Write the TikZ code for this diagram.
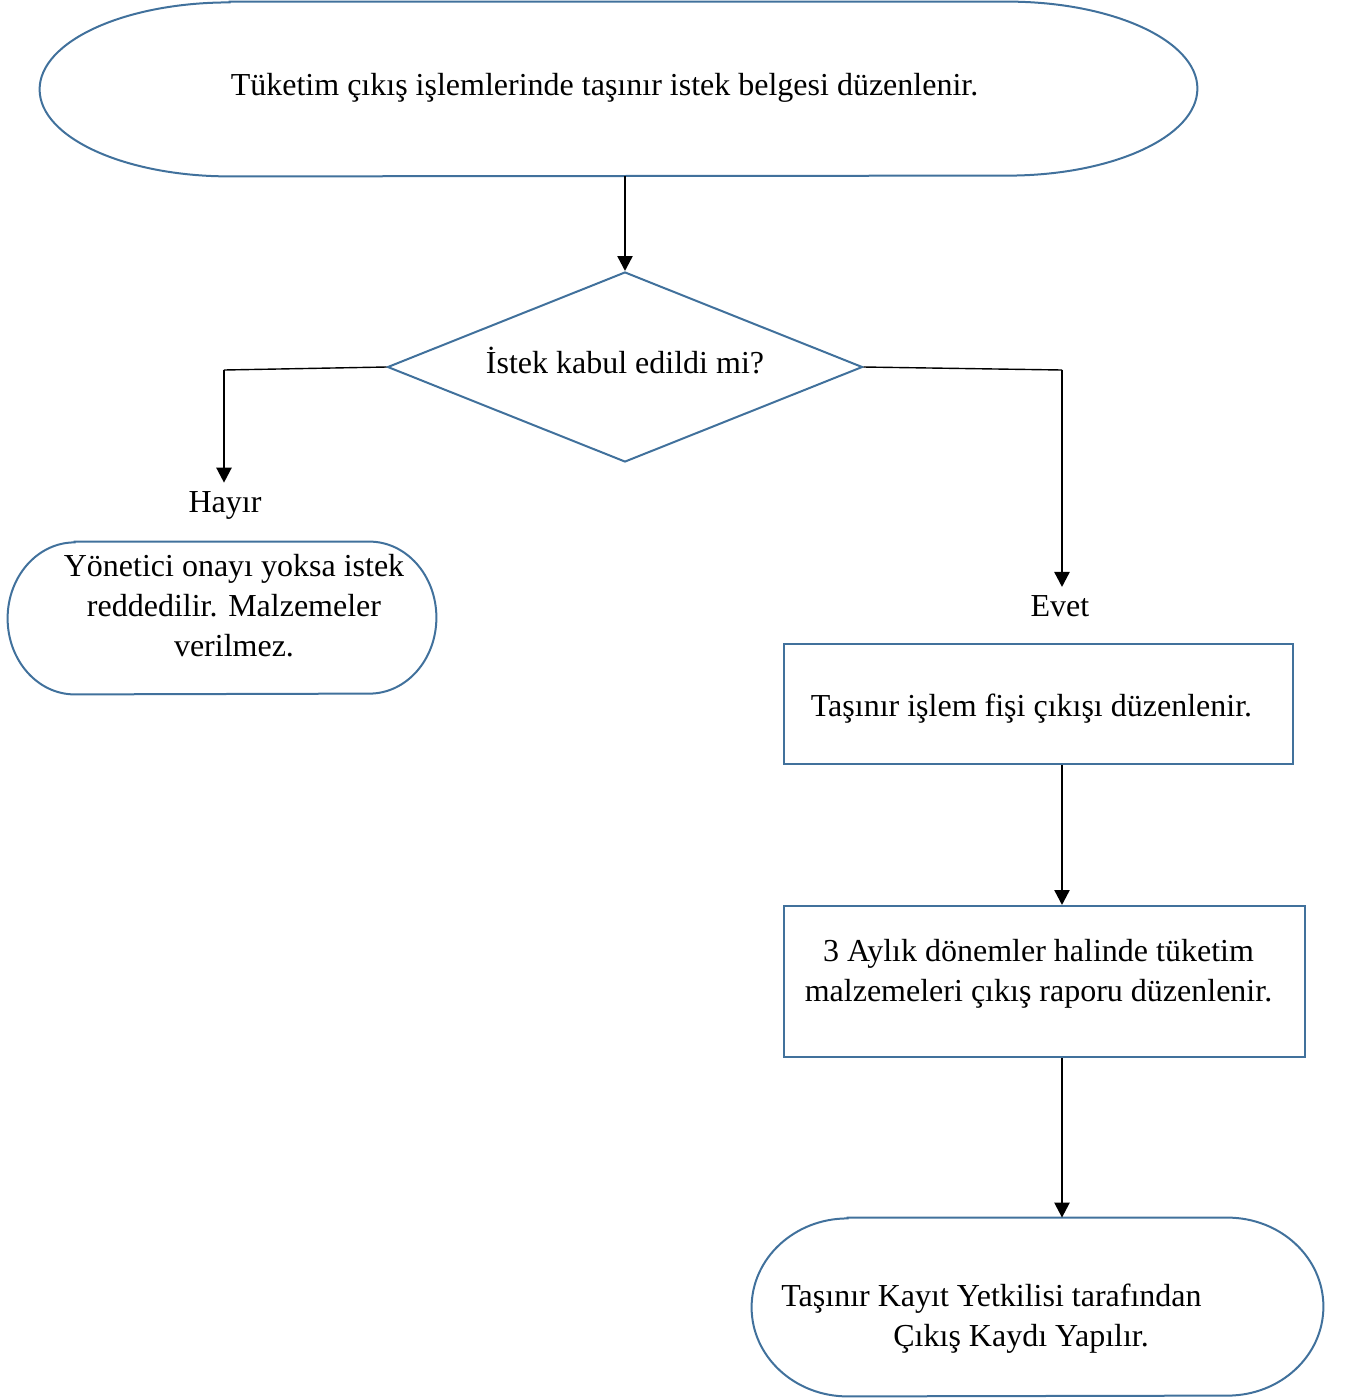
\documentclass[tikz,border=0pt]{standalone}
\usepackage{fontspec}
\setmainfont{Liberation Serif}
\usetikzlibrary{shapes.geometric,arrows.meta}
\definecolor{kenar}{RGB}{65,113,156}
% terminator: straight top and bottom, half ellipses at both ends
\newcommand{\ucerceve}[3]{%
	\draw[kenar, line width=1pt] ([xshift=#2]#1.north west) -- ([xshift=-#2]#1.north east)
		arc[start angle=90, end angle=-90, x radius=#2, y radius=#3]
		-- ([xshift=#2]#1.south west)
		arc[start angle=270, end angle=90, x radius=#2, y radius=#3] -- cycle;}
\tikzset{
	uc/.style={rectangle, inner sep=0pt},
	kutu/.style={draw=kenar, line width=1pt, rectangle, align=center, inner sep=0pt},
	karar/.style={draw=kenar, line width=1pt, diamond, aspect=2.5, inner sep=0pt},
	yazi/.style={inner sep=4pt},
	kol/.style={line width=0.7pt},
	ok/.style={-{Triangle[width=7.5pt,length=7.5pt]}, line width=1.2pt},
}

\begin{document}
\begin{tikzpicture}[x=0.5pt, y=-0.5pt, font=\fontsize{16pt}{20pt}\selectfont]
	\useasboundingbox (0,0) rectangle (1350,1399);

	\node[uc, minimum width=578.5pt, minimum height=87pt] (basla) at (618.5,89) {};
	\ucerceve{basla}{95pt}{43.5pt}
	\node[inner sep=0pt] (baslayazi) at ([shift={(-7pt,0.5pt)}]basla.center)
		{Tüketim çıkış işlemlerinde taşınır istek belgesi düzenlenir.};

	\node[karar, minimum width=237.5pt, minimum height=95pt] (karar) at (625,367) {};
	\node[inner sep=0pt] (kararyazi) at ([yshift=3pt]karar.center) {İstek kabul edildi mi?};

	\node[yazi] (hayir) at (225,505) {Hayır};
	\node[yazi] (evet) at (1060,606) {Evet};

	\node[uc, minimum width=214pt, minimum height=76pt] (red) at (222,618) {};
	\ucerceve{red}{33.5pt}{38pt}
	\node[align=center, inner sep=0pt] (redyazi) at ([shift={(6pt,6pt)}]red.center)
		{Yönetici onayı yoksa istek\\ reddedilir. Malzemeler\\ verilmez.};

	\node[kutu, minimum width=254.5pt, minimum height=60pt] (fis) at (1038.5,704) {};
	\node[inner sep=0pt] (fisyazi) at ([shift={(-3.5pt,-2.5pt)}]fis.center) {Taşınır işlem fişi çıkışı düzenlenir.};
	\node[kutu, minimum width=260.5pt, minimum height=75.5pt] (rapor) at (1044.5,981.5) {};
	\node[align=center, inner sep=0pt] (raporyazi) at ([shift={(-3pt,4pt)}]rapor.center)
		{3 Aylık dönemler halinde tüketim\\ malzemeleri çıkış raporu düzenlenir.};

	\node[uc, minimum width=285.5pt, minimum height=89pt] (kayit) at (1037.5,1307) {};
	\ucerceve{kayit}{48pt}{44.5pt}
	\node[align=left, inner sep=0pt] (kayityazi) at ([shift={(-23pt,-6pt)}]kayit.center)
		{Taşınır Kayıt Yetkilisi tarafından\\ \hspace*{56pt}Çıkış Kaydı Yapılır.};

	\coordinate (hk) at (224,370);
	\coordinate (ek) at (1062,370);
	\draw[kol] (karar.west) -- (hk);
	\draw[kol] (karar.east) -- (ek);

	\path[ok]
		(basla.south -| karar.north) edge (karar.north)
		(hk) edge (hk |- hayir.north)
		(ek) edge (ek |- evet.north)
		(fis.south -| ek) edge (rapor.north -| ek)
		(rapor.south -| ek) edge (kayit.north -| ek);
\end{tikzpicture}
\end{document}
